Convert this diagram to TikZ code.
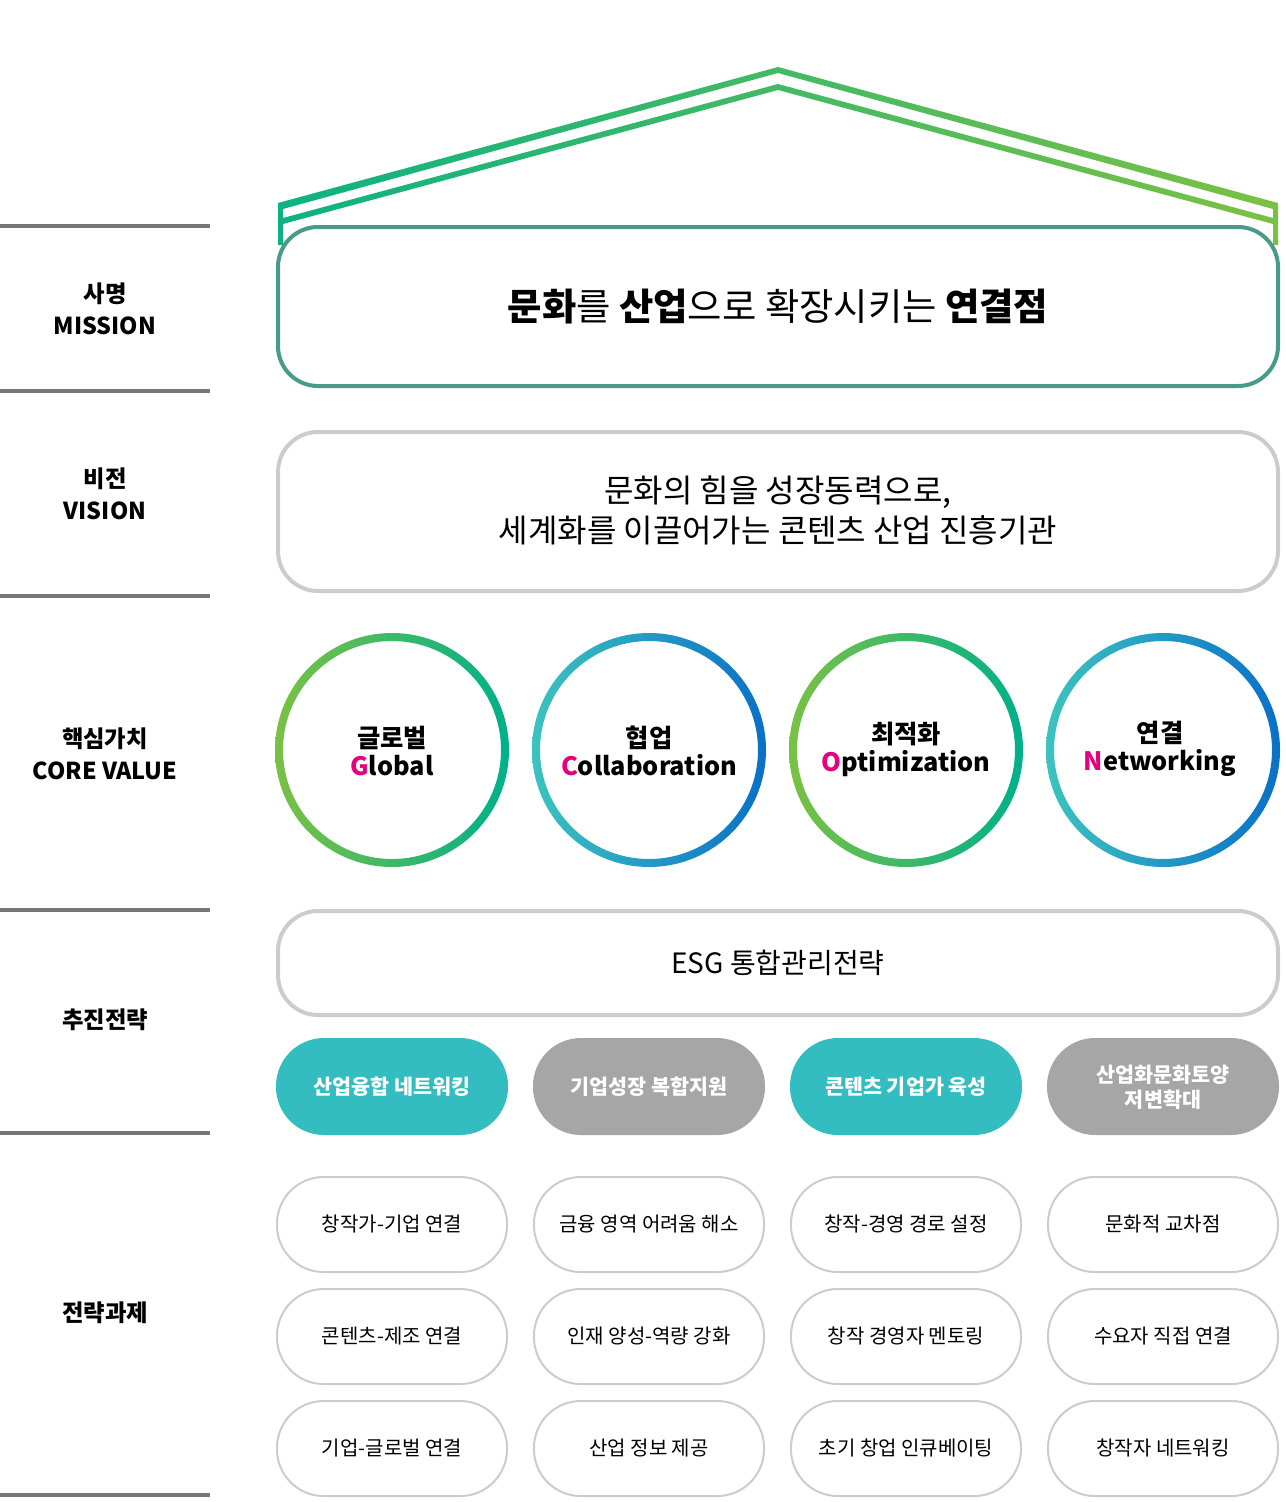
\documentclass[tikz,border=0pt]{standalone}
\usepackage{fontspec}
\setmainfont{Noto Sans CJK KR}
\definecolor{lgray}{HTML}{777777}
\definecolor{bgray}{HTML}{CCCCCC}
\definecolor{teal1}{HTML}{33BDC0}
\definecolor{pgray}{HTML}{A6A6A6}
\definecolor{mag}{HTML}{E4007F}
\definecolor{gA}{HTML}{7AC143}
\definecolor{gB}{HTML}{00B08B}
\definecolor{bA}{HTML}{3CC3C0}
\definecolor{bB}{HTML}{0A70C8}
\definecolor{mis}{HTML}{4A9A8A}
\tikzset{x=0.75pt,y=-0.75pt,
 lab/.style={font=\fontsize{17.5}{22}\selectfont\bfseries,align=center},
 bigbox/.style={draw=bgray,line width=3pt,rounded corners=30pt},
 pill/.style={text=white,align=center,font=\fontsize{15.5}{19}\selectfont\bfseries},
 task/.style={draw=bgray,line width=1.5pt,rounded corners=35pt},
 ttext/.style={font=\fontsize{15}{18}\selectfont},
 ctext/.style={align=center,font=\fontsize{19}{24}\selectfont\bfseries}}
\begin{document}
\begin{tikzpicture}
\useasboundingbox (0,0) rectangle (1285,1502);
\foreach \y in {226,391,596,910,1133,1495}{\draw[lgray,line width=3pt] (0,\y) -- (210,\y);}
\node[lab] (l1) at (105,309) {사명\\[2pt]MISSION};
\node[lab] (l2) at (105,494) {비전\\[2pt]VISION};
\node[lab] (l3) at (105,754) {핵심가치\\[2pt]CORE VALUE};
\node[lab] (l4) at (105,1020) {추진전략};
\node[lab] (l5) at (105,1313) {전략과제};
\shade[left color=gB!90!gA,right color=gA]
 (278,203) -- (778,67) -- (1278,203) -- (1278,245) -- (1273,245) -- (1273,209) -- (778,73) -- (283,209) -- (283,245) -- (278,245) -- cycle
 (283,218) -- (778,84) -- (1273,218) -- (1273,224) -- (778,90) -- (283,224) -- cycle;
\draw[mis,line width=3pt,rounded corners=30pt,fill=white] (278,227) rectangle (1278,386);
\node[font=\fontsize{28}{30}\selectfont] (mt) at (778,307) {\textbf{문화}를 \textbf{산업}으로 확장시키는 \textbf{연결점}};
\draw[bigbox] (278,432) rectangle (1278,591);
\node[font=\fontsize{24}{30}\selectfont,align=center] (vt) at (778,510) {문화의 힘을 성장동력으로,\\세계화를 이끌어가는 콘텐츠 산업 진흥기관};
\foreach \cx/\ca/\cb in {392/gA/gB,649/bA/bB,906/gA/gB,1163/bA/bB}{
 \shade[even odd rule,shading angle=135,left color=\ca,right color=\cb] (\cx,750) circle (117) (\cx,750) circle (109);
}
\node[ctext] (t1) at (392,751) {글로벌\\[-3pt]{\color{mag}G}lobal};
\node[ctext] (t2) at (649,751) {협업\\[-3pt]{\color{mag}C}ollaboration};
\node[ctext] (t3) at (906,749) {최적화\\[-3pt]{\color{mag}O}ptimization};
\node[ctext] (t4) at (1160,749) {연결\\[-3pt]{\color{mag}N}etworking};
\draw[bigbox] (278,911) rectangle (1278,1015);
\node[font=\fontsize{21}{24}\selectfont] (esg) at (778,963) {ESG 통합관리전략};
\fill[teal1,rounded corners=36pt] (276,1038) rectangle (508,1135);
\fill[pgray,rounded corners=36pt] (533,1038) rectangle (765,1135);
\fill[teal1,rounded corners=36pt] (790,1038) rectangle (1022,1135);
\fill[pgray,rounded corners=36pt] (1047,1038) rectangle (1279,1135);
\node[pill] (p1) at (392,1087) {산업융합 네트워킹};
\node[pill] (p2) at (649,1087) {기업성장 복합지원};
\node[pill] (p3) at (906,1087) {콘텐츠 기업가 육성};
\node[pill] (p4) at (1163,1087) {산업화문화토양\\저변확대};
\foreach \cx/\a/\b/\c in {392/창작가-기업 연결/콘텐츠-제조 연결/기업-글로벌 연결,
 649/금융 영역 어려움 해소/인재 양성-역량 강화/산업 정보 제공,
 906/창작-경영 경로 설정/창작 경영자 멘토링/초기 창업 인큐베이팅,
 1163/문화적 교차점/수요자 직접 연결/창작자 네트워킹}{
 \draw[task] (\cx-115,1177) rectangle (\cx+115,1272);
 \draw[task] (\cx-115,1289) rectangle (\cx+115,1384);
 \draw[task] (\cx-115,1401) rectangle (\cx+115,1496);
 \node[ttext] at (\cx,1224) {\a};
 \node[ttext] at (\cx,1336) {\b};
 \node[ttext] at (\cx,1448) {\c};
}
\end{tikzpicture}
\end{document}
